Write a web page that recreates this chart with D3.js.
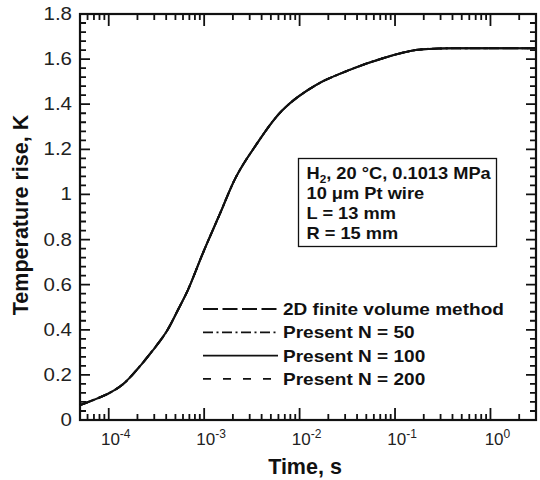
<!DOCTYPE html>
<html><head><meta charset="utf-8">
<script src="https://cdn.jsdelivr.net/npm/d3@7"></script>
<style>
body{margin:0;background:#fff;}
svg{display:block;font-family:"Liberation Sans",Arial,Helvetica,sans-serif;}
</style></head>
<body><svg id="c" width="540" height="480"></svg>
<script>
// ---- data ----
const timeS = [5e-5, 1e-4, 1.42e-4, 2.03e-4, 2.91e-4, 4.02e-4, 5.31e-4, 6.75e-4, 9.68e-4, 1.445e-3, 2.16e-3, 3.22e-3, 6.62e-3, 1.48e-2, 3.29e-2, 7.33e-2, 0.164, 0.286, 0.5, 1, 3];
const fvm2D       = [0.066, 0.118, 0.160, 0.229, 0.310, 0.391, 0.488, 0.576, 0.739, 0.909, 1.078, 1.197, 1.374, 1.485, 1.551, 1.603, 1.640, 1.647, 1.648, 1.648, 1.648];
const presentN50  = [0.066, 0.118, 0.160, 0.229, 0.310, 0.391, 0.488, 0.576, 0.739, 0.909, 1.078, 1.197, 1.374, 1.485, 1.551, 1.603, 1.640, 1.647, 1.648, 1.648, 1.648];
const presentN100 = [0.066, 0.118, 0.160, 0.229, 0.310, 0.391, 0.488, 0.576, 0.739, 0.909, 1.078, 1.197, 1.374, 1.485, 1.551, 1.603, 1.640, 1.647, 1.648, 1.648, 1.648];
const presentN200 = [0.066, 0.118, 0.160, 0.229, 0.310, 0.391, 0.488, 0.576, 0.739, 0.909, 1.078, 1.197, 1.374, 1.485, 1.551, 1.603, 1.640, 1.647, 1.648, 1.648, 1.648];
const seriesNames = ["2D finite volume method", "Present N = 50", "Present N = 100", "Present N = 200"];
const seriesDash = ["15,4.5", "10,3.5,2,3.5", null, "8,12"];
const xMajorExp = [-4, -3, -2, -1, 0];
const yMajor = [0, 0.2, 0.4, 0.6, 0.8, 1, 1.2, 1.4, 1.6, 1.8];
const yTickLabels = ["0", "0.2", "0.4", "0.6", "0.8", "1", "1.2", "1.4", "1.6", "1.8"];
const noteLines = ["H|2|, 20 °C, 0.1013 MPa", "10 μm Pt wire", "L = 13 mm", "R = 15 mm"];

// ---- layout ----
const L = 80, R = 536, T = 14, B = 420;
const svg = d3.select("#c");
const x = d3.scaleLog().domain([5e-5, 3]).range([L, R]);
const y = d3.scaleLinear().domain([0, 1.8]).range([B, T]);

const xMajor = xMajorExp.map(e => Math.pow(10, e));
const xMinor = [];
for (let e = -5; e <= 0; e++) for (let k = 2; k <= 9; k++) {
  const v = k * Math.pow(10, e);
  if (v > 5e-5 && v < 3) xMinor.push(v);
}
const yMinor = d3.range(0, 1.8001, 0.04).filter(v => Math.abs(v / 0.2 - Math.round(v / 0.2)) > 1e-6);

// frame
svg.append("rect").attr("x", L).attr("y", T).attr("width", R - L).attr("height", B - T)
  .attr("fill", "none").attr("stroke", "#111").attr("stroke-width", 2.2);

// ticks, one path per group, built from the scales
function addTicks(build) {
  const p = d3.path();
  build(p);
  svg.append("path").attr("d", p.toString()).attr("fill", "none")
    .attr("stroke", "#111").attr("stroke-width", 1.8);
}
addTicks(p => xMinor.forEach(v => { const px = x(v); p.moveTo(px, B); p.lineTo(px, B - 6); p.moveTo(px, T); p.lineTo(px, T + 6); }));
addTicks(p => xMajor.forEach(v => { const px = x(v); p.moveTo(px, B); p.lineTo(px, B - 12); p.moveTo(px, T); p.lineTo(px, T + 12); }));
addTicks(p => yMinor.forEach(v => { const py = y(v); p.moveTo(L, py); p.lineTo(L + 6, py); p.moveTo(R, py); p.lineTo(R - 6, py); }));
addTicks(p => yMajor.forEach(v => { const py = y(v); p.moveTo(L, py); p.lineTo(L + 10, py); p.moveTo(R, py); p.lineTo(R - 10, py); }));

// y tick labels
svg.append("g").selectAll("text").data(yMajor).join("text")
  .attr("transform", d => `translate(${L - 8},${y(d) + 6}) scale(1.17,1)`).attr("text-anchor", "end")
  .attr("font-size", 17.5).attr("fill", "#222").text((d, i) => yTickLabels[i]);

// x tick labels
const xl = svg.append("g").selectAll("text").data(xMajorExp).join("text")
  .attr("x", d => x(Math.pow(10, d)) + 7).attr("y", B + 25).attr("text-anchor", "middle")
  .attr("font-size", 17).attr("fill", "#222");
xl.append("tspan").text("10");
xl.append("tspan").attr("dy", -7).attr("font-size", 12).text(d => String(d));

// axis titles
svg.append("text").attr("x", 305).attr("y", 474).attr("text-anchor", "middle")
  .attr("font-size", 21.5).attr("font-weight", "bold").attr("fill", "#111").text("Time, s");
svg.append("text").attr("transform", `translate(28,215) rotate(-90)`).attr("text-anchor", "middle")
  .attr("font-size", 21.5).attr("font-weight", "bold").attr("fill", "#111").text("Temperature rise, K");

// lines
const allSeries = [fvm2D, presentN50, presentN100, presentN200];
const lineGen = d3.line().x(d => x(d[0])).y(d => y(d[1])).curve(d3.curveCatmullRom.alpha(0.5));
[0, 1, 3, 2].forEach(i => {
  const pts = timeS.map((t, j) => [t, allSeries[i][j]]);
  svg.append("path").datum(pts).attr("d", lineGen).attr("fill", "none")
    .attr("stroke", "#111").attr("stroke-width", 2)
    .attr("stroke-dasharray", seriesDash[i]);
});

// legend
const legY0 = 309, legDy = 23.3;
seriesNames.forEach((name, i) => {
  const yy = legY0 + i * legDy;
  svg.append("line").attr("x1", 203).attr("x2", 278).attr("y1", yy).attr("y2", yy)
    .attr("stroke", "#111").attr("stroke-width", 1.8).attr("stroke-dasharray", seriesDash[i]);
  svg.append("text").attr("transform", `translate(283,${yy + 6}) scale(1.12,1)`).attr("font-size", 17)
    .attr("font-weight", "bold").attr("fill", "#111").text(name);
});

// annotation box
svg.append("rect").attr("x", 298.5).attr("y", 158.5).attr("width", 198).attr("height", 88)
  .attr("fill", "#fff").attr("stroke", "#111").attr("stroke-width", 1.3);
noteLines.forEach((ln, i) => {
  const t = svg.append("text").attr("transform", `translate(306.5,${178.5 + i * 20}) scale(1.12,1)`)
    .attr("font-size", 16.3).attr("font-weight", "bold").attr("fill", "#111");
  const parts = ln.split("|");
  if (parts.length === 3) {
    t.append("tspan").text(parts[0]);
    t.append("tspan").attr("dy", 4).attr("font-size", 10.5).text(parts[1]);
    t.append("tspan").attr("dy", -4).text(parts[2]);
  } else t.text(ln);
});
</script></body></html>
